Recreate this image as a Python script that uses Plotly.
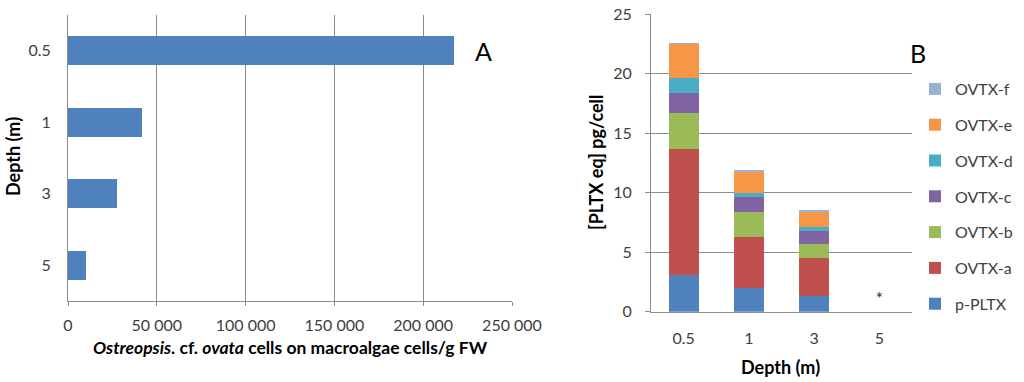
import plotly.graph_objects as go

# ---- Panel A data ----
depth_a = ["0.5", "1", "3", "5"]
cells = [217500, 41700, 27800, 10400]

# ---- Panel B data ----
depth_b = ["0.5", "1", "3", "5"]
p_pltx = [3.05, 1.95, 1.3, 0]
ovtx_a = [10.6, 4.3, 3.2, 0]
ovtx_b = [3.0, 2.1, 1.2, 0]
ovtx_c = [1.7, 1.3, 1.1, 0]
ovtx_d = [1.3, 0.35, 0.35, 0]
ovtx_e = [2.85, 1.8, 1.3, 0]
ovtx_f = [0.03, 0.03, 0.03, 0]

series_names = ["p-PLTX", "OVTX-a", "OVTX-b", "OVTX-c", "OVTX-d", "OVTX-e", "OVTX-f"]
series_vals = [p_pltx, ovtx_a, ovtx_b, ovtx_c, ovtx_d, ovtx_e, ovtx_f]
series_cols = ["#4F81BD", "#C0504D", "#9BBB59", "#8064A2", "#4BACC6", "#F79646", "#95B3D7"]

# "*" marks depth 5 m (no toxin detected)
star_depth = ["5"]
star_y = [0.9]

x_ticks_a = [0, 50000, 100000, 150000, 200000, 250000]
x_ticklabels_a = ["0", "50 000", "100 000", "150 000", "200 000", "250 000"]
y_ticks_b = [0, 5, 10, 15, 20, 25]

FONT = "Lato, 'Open Sans', sans-serif"
GRID = "#8c8c8c"
TICKC = "#404040"

fig = go.Figure()

fig.add_trace(go.Bar(
    x=cells, y=depth_a, orientation="h", width=0.4,
    marker=dict(color="#4F81BD", line=dict(width=0)),
    xaxis="x", yaxis="y", showlegend=False,
))

n = len(series_names)
for i, (name, vals, col) in enumerate(zip(series_names, series_vals, series_cols)):
    fig.add_trace(go.Bar(
        x=depth_b, y=vals, name=name, width=0.46,
        marker=dict(color=col, line=dict(width=0)),
        xaxis="x2", yaxis="y2", legendgroup=name, legendrank=100 + n - i,
    ))

fig.add_trace(go.Scatter(
    x=star_depth, y=star_y, mode="text", text=["*"],
    textfont=dict(size=18, color="#303030", family=FONT),
    xaxis="x2", yaxis="y2", showlegend=False, hoverinfo="skip",
))

fig.update_layout(
    width=1024, height=382,
    margin=dict(l=0, r=0, t=0, b=0),
    paper_bgcolor="white", plot_bgcolor="white",
    barmode="stack",
    font=dict(family=FONT, size=16, color=TICKC),
    xaxis=dict(
        domain=[68 / 1024, 512 / 1024], anchor="y", automargin=False,
        range=[0, 250000], tickvals=x_ticks_a, ticktext=x_ticklabels_a,
        showgrid=True, gridcolor=GRID, gridwidth=1,
        showline=True, linecolor=GRID, ticks="outside", ticklen=4, tickcolor=GRID,
        zeroline=False, tickfont=dict(size=16, color=TICKC), ticklabelstandoff=6,
    ),
    yaxis=dict(
        domain=[1 - 301 / 382, 1 - 15 / 382], anchor="x", automargin=False,
        type="category", autorange="reversed",
        categoryorder="array", categoryarray=depth_a,
        showgrid=False, showline=True, linecolor=GRID, ticks="",
        tickfont=dict(size=16, color=TICKC), ticklabelstandoff=13,
    ),
    xaxis2=dict(
        domain=[651 / 1024, 912 / 1024], anchor="y2", automargin=False,
        type="category", categoryorder="array", categoryarray=depth_b,
        range=[-0.5, 3.5],
        showgrid=False, showline=True, linecolor=GRID, ticks="",
        tickfont=dict(size=16, color=TICKC), ticklabelstandoff=12,
    ),
    yaxis2=dict(
        domain=[1 - 311.7 / 382, 1 - 14 / 382], anchor="x2", automargin=False,
        range=[0, 25], tickvals=y_ticks_b,
        showgrid=True, gridcolor=GRID, gridwidth=1,
        showline=True, linecolor=GRID, ticks="outside", ticklen=5, tickcolor=GRID,
        zeroline=False, tickfont=dict(size=16, color=TICKC), ticklabelstandoff=10,
    ),
    legend=dict(
        x=915 / 1024, y=1 - 72 / 382, xanchor="left", yanchor="top",
        traceorder="grouped", tracegroupgap=12,
        bgcolor="rgba(0,0,0,0)", font=dict(size=16, color=TICKC),
    ),
)

def ann(text, x, y, size, angle=0, color="black"):
    return dict(text=text, x=x / 1024, y=1 - y / 382, xref="paper", yref="paper",
                xanchor="center", yanchor="middle", showarrow=False, textangle=angle,
                font=dict(size=size, color=color, family=FONT))

annotations = [
    ann("A", 483, 51, 25),
    ann("B", 918, 53, 25),
    ann("<b><i>Ostreopsis</i>. cf. <i>ovata</i> cells on macroalgae cells/g FW</b>", 290, 347, 17.5),
    ann("<b>Depth (m)</b>", 13, 157, 18, angle=-90),
    ann("<b>Depth (m)</b>", 780, 367, 18),
    ann("<b>[PLTX eq] pg/cell</b>", 596, 163, 18, angle=-90),
]
fig.update_layout(annotations=annotations)

fig.write_html(
    "out.html",
    config={"displayModeBar": False},
    post_script="document.body.style.margin='0';document.body.style.padding='0';",
)
